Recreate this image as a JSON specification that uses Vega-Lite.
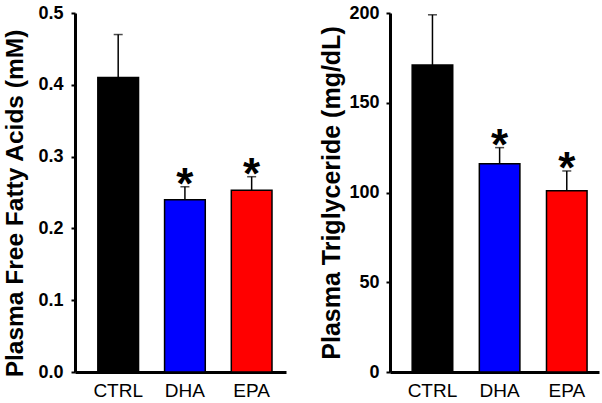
{
  "$schema": "https://vega.github.io/schema/vega-lite/v6.json",
  "padding": {"left": 2, "top": 4, "right": 2, "bottom": 0},
  "background": "white",
  "datasets": {
    "ffa": [
      {"group": "CTRL", "value": 0.41, "err": 0.47, "star": ""},
      {"group": "DHA", "value": 0.24, "err": 0.258, "star": "*"},
      {"group": "EPA", "value": 0.253, "err": 0.272, "star": "*"}
    ],
    "tg": [
      {"group": "CTRL", "value": 171, "err": 199, "star": ""},
      {"group": "DHA", "value": 116, "err": 125, "star": "*"},
      {"group": "EPA", "value": 101, "err": 112, "star": "*"}
    ]
  },
  "config": {
    "view": {"stroke": null},
    "font": "Liberation Sans",
    "axis": {
      "grid": false,
      "domainColor": "black",
      "domainWidth": 3,
      "tickColor": "black",
      "tickWidth": 2,
      "tickSize": 4,
      "labelColor": "black",
      "labelFont": "Liberation Sans",
      "titleFont": "Liberation Sans",
      "titleColor": "black"
    }
  },
  "spacing": 33,
  "hconcat": [
    {
      "width": 211,
      "height": 359,
      "data": {"name": "ffa"},
      "encoding": {
        "x": {
          "field": "group", "type": "nominal", "sort": ["CTRL", "DHA", "EPA"],
          "scale": {"paddingInner": 0.39, "paddingOuter": 0.276, "align": 0.62},
          "axis": {"title": null, "labelAngle": 0, "ticks": false, "labelFontSize": 19, "labelPadding": 9}
        }
      },
      "layer": [
        {
          "mark": {"type": "rule", "color": "black", "strokeWidth": 1.5},
          "encoding": {
            "y": {"field": "value", "type": "quantitative"},
            "y2": {"field": "err"}
          }
        },
        {
          "mark": {"type": "tick", "color": "black", "thickness": 1.5, "size": 9},
          "encoding": {"y": {"field": "err", "type": "quantitative"}}
        },
        {
          "mark": {"type": "bar", "stroke": "black", "strokeWidth": 1.5},
          "encoding": {
            "y": {
              "field": "value", "type": "quantitative",
              "scale": {"domain": [0, 0.5], "nice": false},
              "axis": {
                "title": "Plasma Free Fatty Acids (mM)",
                "titleFontSize": 24.5, "titleFontWeight": "bold", "titlePadding": 10, "titleY": 190,
                "values": [0, 0.1, 0.2, 0.3, 0.4, 0.5], "format": ".1f",
                "labelFontSize": 18, "labelFontWeight": "bold", "labelPadding": 8
              }
            },
            "color": {
              "field": "group", "type": "nominal",
              "scale": {"domain": ["CTRL", "DHA", "EPA"], "range": ["#000000", "#0000ff", "#ff0000"]},
              "legend": null
            }
          }
        },
        {
          "transform": [{"filter": "datum.star != ''"}],
          "mark": {"type": "text", "fontSize": 44, "fontWeight": "bold", "color": "black", "baseline": "alphabetic", "dy": 12},
          "encoding": {
            "y": {"field": "err", "type": "quantitative"},
            "text": {"field": "star"}
          }
        }
      ]
    },
    {
      "width": 209,
      "height": 359,
      "data": {"name": "tg"},
      "encoding": {
        "x": {
          "field": "group", "type": "nominal", "sort": ["CTRL", "DHA", "EPA"],
          "scale": {"paddingInner": 0.396, "paddingOuter": 0.254, "align": 0.65},
          "axis": {"title": null, "labelAngle": 0, "ticks": false, "labelFontSize": 19, "labelPadding": 9}
        }
      },
      "layer": [
        {
          "mark": {"type": "rule", "color": "black", "strokeWidth": 1.5},
          "encoding": {
            "y": {"field": "value", "type": "quantitative"},
            "y2": {"field": "err"}
          }
        },
        {
          "mark": {"type": "tick", "color": "black", "thickness": 1.5, "size": 9},
          "encoding": {"y": {"field": "err", "type": "quantitative"}}
        },
        {
          "mark": {"type": "bar", "stroke": "black", "strokeWidth": 1.5},
          "encoding": {
            "y": {
              "field": "value", "type": "quantitative",
              "scale": {"domain": [0, 200], "nice": false},
              "axis": {
                "title": "Plasma Triglyceride (mg/dL)",
                "titleFontSize": 25, "titleFontWeight": "bold", "titlePadding": 4,
                "values": [0, 50, 100, 150, 200], "format": "d",
                "labelFontSize": 18, "labelFontWeight": "bold", "labelPadding": 7
              }
            },
            "color": {
              "field": "group", "type": "nominal",
              "scale": {"domain": ["CTRL", "DHA", "EPA"], "range": ["#000000", "#0000ff", "#ff0000"]},
              "legend": null
            }
          }
        },
        {
          "transform": [{"filter": "datum.star != ''"}],
          "mark": {"type": "text", "fontSize": 44, "fontWeight": "bold", "color": "black", "baseline": "alphabetic", "dy": 12},
          "encoding": {
            "y": {"field": "err", "type": "quantitative"},
            "text": {"field": "star"}
          }
        }
      ]
    }
  ]
}
